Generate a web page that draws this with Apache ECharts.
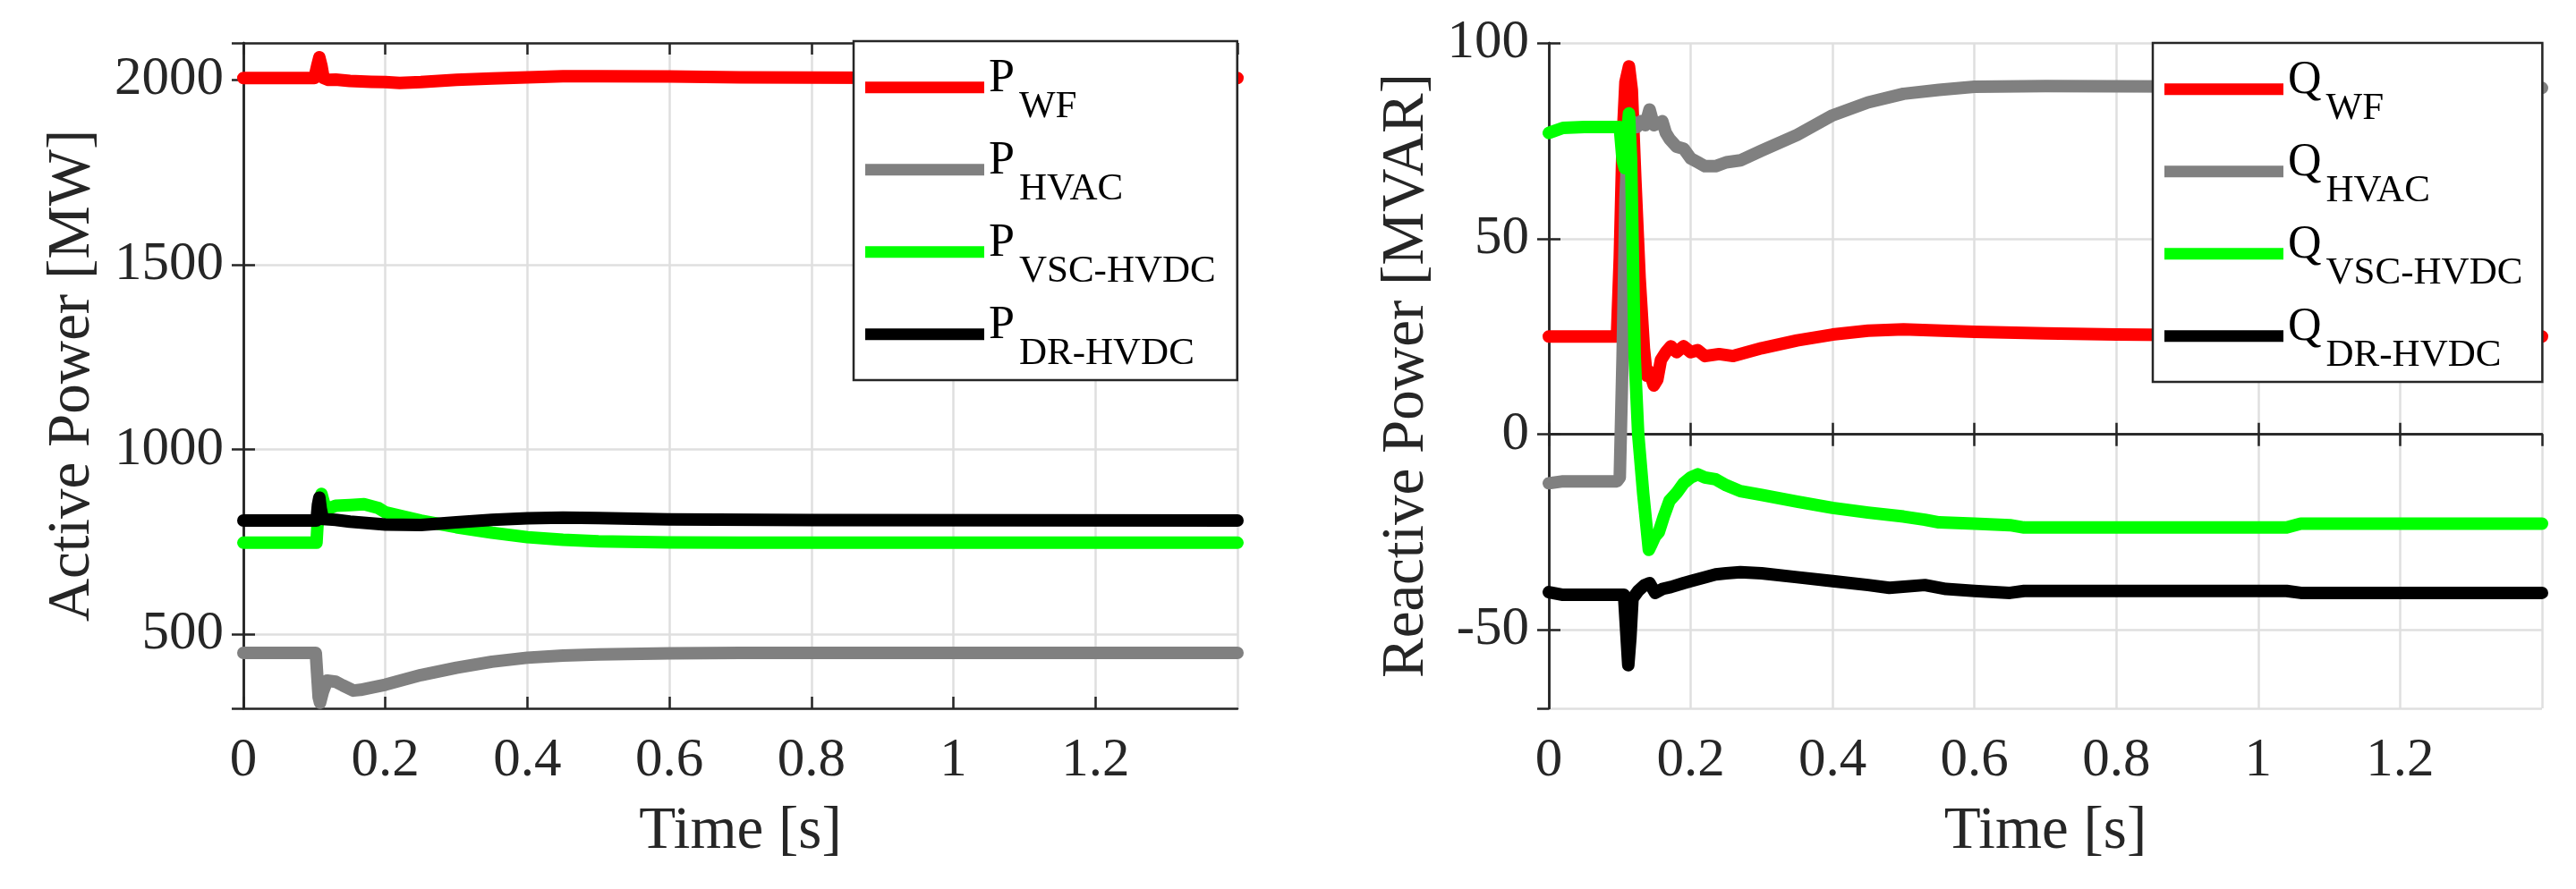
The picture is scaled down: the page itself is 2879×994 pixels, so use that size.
<!DOCTYPE html>
<html>
<head>
<meta charset="utf-8">
<script src="https://cdn.jsdelivr.net/npm/echarts@6/dist/echarts.min.js"></script>
<style>
html,body{margin:0;padding:0;background:#fff;}
#chart{width:2879px;height:994px;}
</style>
</head>
<body>
<div id="chart"></div>
<script>
// ---------- Data ----------
const xTicks = [0, 0.2, 0.4, 0.6, 0.8, 1, 1.2];
const subNames = ['WF', 'HVAC', 'VSC-HVDC', 'DR-HVDC'];
const colors = ['#ff0000', '#808080', '#00ff00', '#000000'];

// Active power [MW]
const tPwf = [0, 0.100, 0.104, 0.107, 0.110, 0.113, 0.12, 0.13, 0.15, 0.18, 0.2, 0.22, 0.25, 0.3, 0.35, 0.4, 0.45, 0.5, 0.6, 0.7, 0.8, 1.0, 1.2, 1.4];
const pWf  = [2005, 2005, 2038, 2061, 2038, 2005, 2000, 2001, 1997, 1995, 1994, 1992, 1994, 2000, 2004, 2007, 2010, 2010, 2009, 2007, 2006, 2005, 2005, 2005];

const tPhvac = [0, 0.102, 0.106, 0.108, 0.112, 0.118, 0.13, 0.14, 0.155, 0.165, 0.18, 0.2, 0.25, 0.3, 0.35, 0.4, 0.45, 0.5, 0.6, 0.7, 1.4];
const pHvac  = [450, 450, 330, 315, 345, 375, 372, 362, 348, 350, 356, 364, 390, 410, 426, 437, 443, 446, 449, 450, 450];

const tPvsc = [0, 0.103, 0.106, 0.110, 0.115, 0.12, 0.13, 0.15, 0.17, 0.19, 0.2, 0.25, 0.3, 0.35, 0.4, 0.45, 0.5, 0.6, 0.7, 1.4];
const pVsc  = [748, 748, 850, 880, 845, 840, 848, 850, 852, 842, 830, 808, 790, 775, 763, 756, 752, 749, 748, 748];

const tPdr = [0, 0.103, 0.105, 0.107, 0.109, 0.112, 0.13, 0.15, 0.2, 0.25, 0.3, 0.35, 0.4, 0.45, 0.5, 0.6, 0.8, 1.4];
const pDr  = [808, 808, 850, 870, 840, 812, 810, 805, 797, 796, 803, 810, 814, 816, 815, 811, 809, 808];

// Reactive power [MVAR]
const tQwf = [0, 0.096, 0.100, 0.104, 0.108, 0.113, 0.117, 0.122, 0.128, 0.134, 0.138, 0.142, 0.148, 0.153, 0.158, 0.165, 0.172, 0.18, 0.19, 0.2, 0.21, 0.22, 0.24, 0.26, 0.3, 0.35, 0.4, 0.45, 0.5, 0.6, 0.7, 0.8, 1.0, 1.4];
const qWf  = [25, 25, 45, 75, 90, 94, 88, 65, 40, 22, 15, 16, 12.5, 14, 19, 21, 22.5, 21, 22.5, 21, 21.5, 20, 20.5, 20, 22, 24, 25.5, 26.5, 26.8, 26.2, 25.8, 25.5, 25.2, 25];

const tQhvac = [0, 0.02, 0.096, 0.100, 0.104, 0.108, 0.112, 0.118, 0.124, 0.13, 0.136, 0.142, 0.148, 0.155, 0.16, 0.165, 0.17, 0.18, 0.19, 0.2, 0.21, 0.22, 0.235, 0.25, 0.27, 0.3, 0.35, 0.4, 0.45, 0.5, 0.55, 0.6, 0.7, 1.0, 1.4];
const qHvac  = [-12.5, -12, -12, -11, 20, 60, 78, 80, 78.5, 80, 79, 83, 79, 79.5, 80, 77, 75.5, 73.5, 73, 70.5, 69.5, 68.5, 68.5, 69.5, 70, 72.5, 76.5, 81.5, 84.8, 87, 88, 88.8, 89, 88.8, 88.5];

const tQvsc = [0, 0.02, 0.05, 0.100, 0.104, 0.107, 0.110, 0.113, 0.116, 0.121, 0.126, 0.133, 0.141, 0.145, 0.15, 0.155, 0.162, 0.17, 0.18, 0.19, 0.2, 0.21, 0.22, 0.235, 0.25, 0.27, 0.3, 0.35, 0.4, 0.45, 0.5, 0.53, 0.55, 0.6, 0.65, 0.67, 0.8, 1.04, 1.06, 1.4];
const qVsc  = [77, 78.3, 78.5, 78.5, 70, 68, 76, 82, 70, 20, 0, -15, -29.5, -28, -26, -25, -21, -17, -15, -12.5, -11, -10.2, -11, -11.5, -13, -14.5, -15.5, -17.2, -18.8, -20, -21, -21.8, -22.5, -22.8, -23.2, -23.8, -23.8, -23.8, -22.8, -22.8];

const tQdr = [0, 0.02, 0.106, 0.109, 0.112, 0.115, 0.118, 0.126, 0.135, 0.142, 0.15, 0.16, 0.172, 0.19, 0.2, 0.22, 0.235, 0.25, 0.27, 0.3, 0.35, 0.4, 0.45, 0.48, 0.53, 0.56, 0.6, 0.65, 0.67, 1.04, 1.06, 1.4];
const qDr  = [-40.3, -41, -41, -50, -59, -52, -42, -40, -38.5, -38, -40.5, -39.5, -39, -38, -37.5, -36.5, -35.8, -35.5, -35.2, -35.5, -36.5, -37.5, -38.5, -39.2, -38.5, -39.5, -40, -40.5, -40, -40, -40.5, -40.5];

// ---------- Chart ----------
const FONT = '"Liberation Serif", "Times New Roman", serif';
const AX = '#262626';
const zip = (t, v) => t.map((x, i) => [x, v[i]]);

const pSeries = [[tPwf, pWf], [tPhvac, pHvac], [tPvsc, pVsc], [tPdr, pDr]];
const qSeries = [[tQwf, qWf], [tQhvac, qHvac], [tQvsc, qVsc], [tQdr, qDr]];

const labelStyle = { fontFamily: FONT, fontSize: 61, color: AX, fontWeight: 'normal' };

function xAxes(gi) {
  return [{
    type: 'value', gridIndex: gi, min: 0, max: 1.4, interval: 0.2, position: 'bottom',
    name: 'Time [s]', nameLocation: 'middle', nameGap: 105, nameMoveOverlap: false,
    nameTextStyle: { fontFamily: FONT, fontSize: 67, color: AX },
    axisLine: { show: true, lineStyle: { color: AX, width: 2.5 } },
    axisTick: { show: true, inside: true, length: 13, lineStyle: { color: AX, width: 2.5 } },
    axisLabel: Object.assign({ margin: 28, showMaxLabel: false,
                 formatter: v => (xTicks.some(t => Math.abs(t - v) < 1e-9) ? String(+(+v).toFixed(1)) : '') }, labelStyle),
    splitLine: { show: true, lineStyle: { color: '#dfdfdf', width: 2.5 } }
  }, {
    type: 'value', gridIndex: gi, min: 0, max: 1.4, interval: 0.2, position: 'top',
    axisLine: { show: true, lineStyle: { color: AX, width: 2.5 } },
    axisTick: { show: true, inside: true, length: 13, lineStyle: { color: AX, width: 2.5 } },
    axisLabel: { show: false }, splitLine: { show: false }
  }];
}
function yAxes(gi, min, max, name, gap, showMax) {
  return [{
    type: 'value', gridIndex: gi, min: min, max: max, splitNumber: 4, position: 'left',
    name: name, nameLocation: 'middle', nameGap: gap, nameMoveOverlap: false,
    nameTextStyle: { fontFamily: FONT, fontSize: 67, color: AX },
    axisLine: { show: true, lineStyle: { color: AX, width: 2.5 } },
    axisTick: { show: true, inside: true, length: 13, lineStyle: { color: AX, width: 2.5 } },
    axisLabel: Object.assign({ margin: 22, padding: [7, 0, 0, 0],
                 showMinLabel: false, showMaxLabel: showMax, formatter: v => String(v) }, labelStyle),
    splitLine: { show: true, lineStyle: { color: '#dfdfdf', width: 2.5 } }
  }, {
    type: 'value', gridIndex: gi, min: min, max: max, splitNumber: 4, position: 'right',
    axisLine: { show: true, lineStyle: { color: AX, width: 2.5 } },
    axisTick: { show: true, inside: true, length: 13, lineStyle: { color: AX, width: 2.5 } },
    axisLabel: { show: false }, splitLine: { show: false }
  }];
}

const series = [];
pSeries.forEach((s, i) => series.push({
  name: 'P' + subNames[i], type: 'line', xAxisIndex: 0, yAxisIndex: 0,
  data: zip(s[0], s[1]), showSymbol: false, clip: false, color: colors[i],
  lineStyle: { width: 14, color: colors[i], cap: 'round', join: 'round' }
}));
qSeries.forEach((s, i) => series.push({
  name: 'Q' + subNames[i], type: 'line', xAxisIndex: 2, yAxisIndex: 2,
  data: zip(s[0], s[1]), showSymbol: false, clip: false, color: colors[i],
  lineStyle: { width: 14, color: colors[i], cap: 'round', join: 'round' }
}));

function legend(left, top, prefix, padRight) {
  return {
    orient: 'vertical', left: left, top: top,
    data: subNames.map(s => prefix + s),
    icon: 'rect', itemWidth: 133, itemHeight: 13, itemGap: 13.5, itemTextGap: 8,
    padding: [16.5, padRight, 8, 13],
    backgroundColor: '#fff', borderColor: AX, borderWidth: 2.5, borderRadius: 0,
    selectedMode: false,
    formatter: n => '{m|' + n[0] + '}{s|' + n.slice(1) + '}',
    textStyle: {
      color: '#000', fontFamily: FONT, lineHeight: 70.5,
      rich: {
        m: { fontFamily: FONT, fontSize: 52, lineHeight: 70.5, height: 52, color: '#000',
             padding: [0, 5, 0, 0], verticalAlign: 'top' },
        s: { fontFamily: FONT, fontSize: 43, lineHeight: 70.5, height: 27, color: '#000',
             verticalAlign: 'bottom' }
      }
    }
  };
}

const option = {
  animation: false,
  backgroundColor: '#fff',
  textStyle: { fontFamily: FONT },
  grid: [
    { left: 272, top: 48, width: 1111, height: 744 },
    { left: 1731, top: 48, width: 1110, height: 744 }
  ],
  xAxis: [...xAxes(0), ...xAxes(1)],
  yAxis: [...yAxes(0, 300, 2100, 'Active Power [MW]', 157, false),
          ...yAxes(1, -70, 100, 'Reactive Power [MVAR]', 125, true)],
  legend: [legend(954, 46, 'P', 24), legend(2406, 48, 'Q', 22)],
  series: series
};

const chart = echarts.init(document.getElementById('chart'), null, { renderer: 'canvas' });
chart.setOption(option);
</script>
</body>
</html>
